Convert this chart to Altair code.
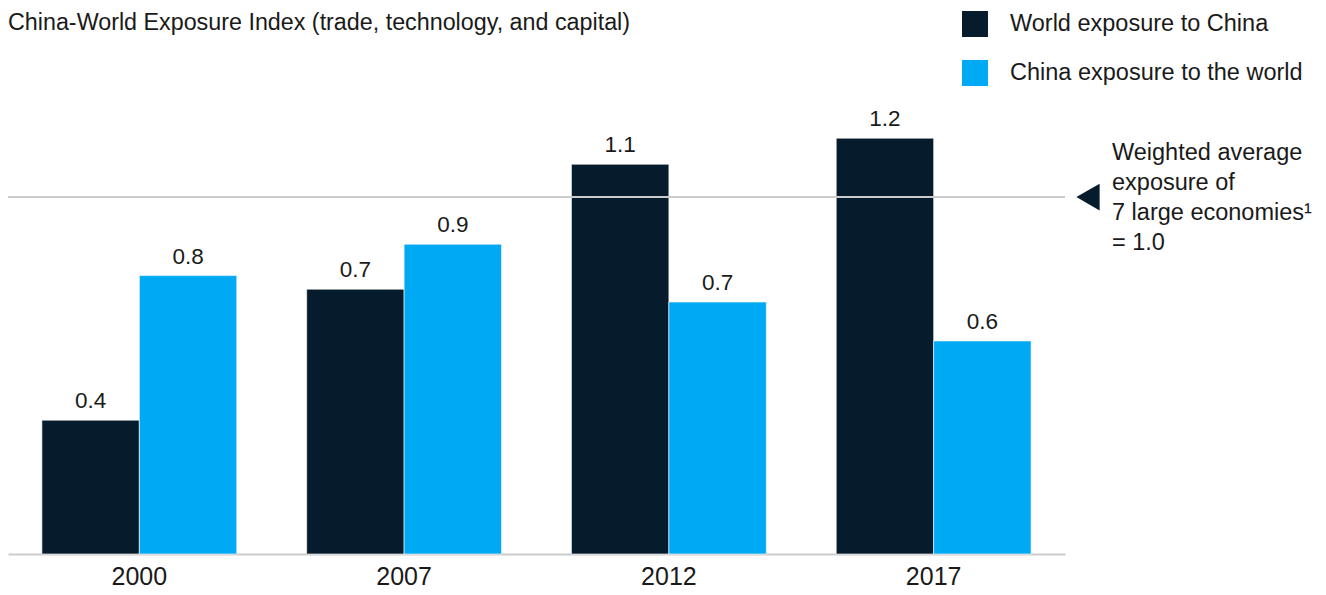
import altair as alt
import pandas as pd

years = ["2000", "2007", "2012", "2017"]
world_to_china = [0.375, 0.742, 1.092, 1.165]
china_to_world = [0.78, 0.868, 0.706, 0.597]
labels_world = ["0.4", "0.7", "1.1", "1.2"]
labels_china = ["0.8", "0.9", "0.7", "0.6"]
series = ["World exposure to China", "China exposure to the world"]
colors = ["#061C2C", "#00A9F4"]
title_text = "China-World Exposure Index (trade, technology, and capital)"
note_lines = ["Weighted average", "exposure of", "7 large economies\u00b9", "= 1.0"]
ref_value = 1.0

rows = []
for i, y in enumerate(years):
    rows.append({"year": y, "series": series[0], "value": world_to_china[i], "label": labels_world[i]})
    rows.append({"year": y, "series": series[1], "value": china_to_world[i], "label": labels_china[i]})
df = pd.DataFrame(rows)

FONT = "Liberation Sans"
TXT = "#1a1a1a"

W, H = 1057, 464
ysc = alt.Scale(domain=[0, 1.3])

x_enc = alt.X("year:N", sort=years,
              scale=alt.Scale(paddingInner=0.264, paddingOuter=0.128),
              axis=alt.Axis(title=None, labelAngle=0, ticks=False, labelFontSize=25,
                            labelFont=FONT, labelColor=TXT, labelPadding=10,
                            domainColor="#cccccc", domainWidth=2))
xo_enc = alt.XOffset("series:N", sort=series)

base = alt.Chart(df)

bars = base.mark_bar(stroke="#ffffff", strokeWidth=1, strokeOpacity=0.6).encode(
    x=x_enc,
    xOffset=xo_enc,
    y=alt.Y("value:Q", scale=ysc, axis=None),
    color=alt.Color("series:N", sort=series,
                    scale=alt.Scale(domain=series, range=colors),
                    legend=alt.Legend(title=None, orient="none", legendX=954, legendY=-79,
                                      symbolType="square", symbolSize=676, symbolStrokeWidth=0,
                                      symbolOpacity=1, labelFontSize=23.5, labelFont=FONT,
                                      labelColor=TXT, labelOffset=22, rowPadding=23, padding=0,
                                      labelLimit=0)),
)

texts = base.mark_text(fontSize=22.5, font=FONT, color=TXT, baseline="alphabetic", dy=-12).encode(
    x=x_enc,
    xOffset=xo_enc,
    y=alt.Y("value:Q", scale=ysc, axis=None),
    text="label:N",
)

ref_df = pd.DataFrame({"v": [ref_value]})
ref_line = alt.Chart(ref_df).mark_rule(color="#cccccc", strokeWidth=2).encode(
    y=alt.Y("v:Q", scale=ysc, axis=None),
    x=alt.value(0), x2=alt.value(W),
)
tri = alt.Chart(ref_df).mark_point(shape="triangle-left", filled=True, size=720,
                                   color="#061C2C", opacity=1).encode(
    y=alt.Y("v:Q", scale=ysc, axis=None),
    x=alt.value(1080),
)

note = alt.Chart(pd.DataFrame({"t": [note_lines]})).mark_text(
    fontSize=23.5, font=FONT, color=TXT, align="left", baseline="alphabetic", lineHeight=30
).encode(x=alt.value(1104), y=alt.value(70), text="t")

title = alt.Chart(pd.DataFrame({"t": [title_text]})).mark_text(
    fontSize=23.3, font=FONT, color=TXT, align="left", baseline="top"
).encode(x=alt.value(0), y=alt.value(-78), text="t:N")

chart = alt.layer(bars, ref_line, texts, tri, note, title).properties(
    width=W, height=H,
    autosize=alt.AutoSizeParams(type="none"),
    padding={"left": 0, "top": 82, "right": 253, "bottom": 41},
).configure_view(stroke=None)

chart.save("out.html", embed_options={"renderer": "svg", "actions": False})
